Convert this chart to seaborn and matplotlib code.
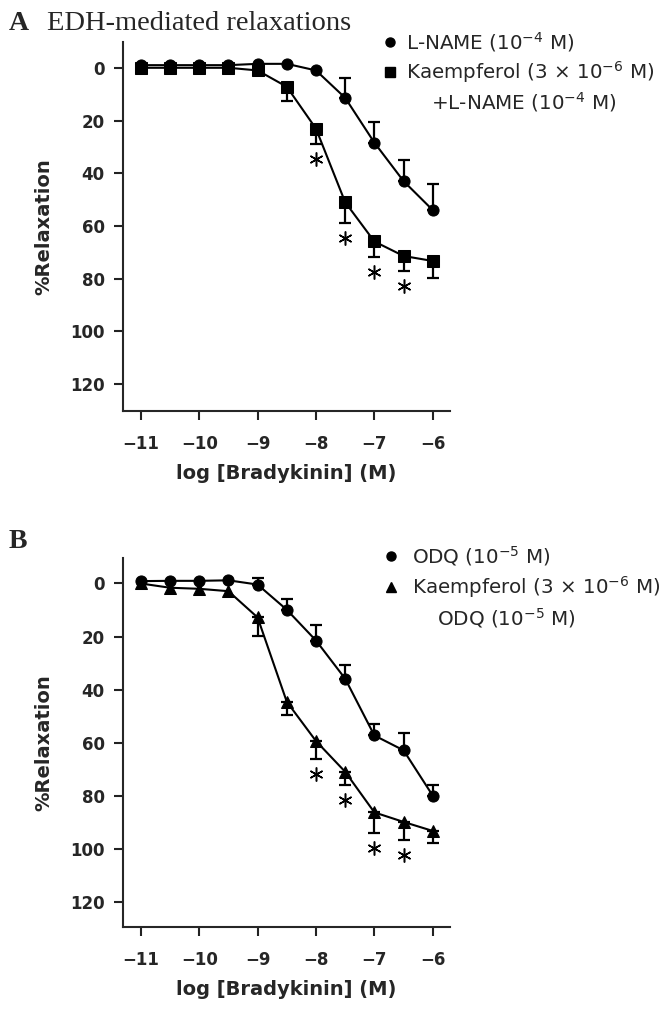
import numpy as np
import pandas as pd
import matplotlib
matplotlib.use('Agg')
import matplotlib.pyplot as plt
import seaborn as sns
from matplotlib.lines import Line2D
from matplotlib.transforms import offset_copy

# log [bradykinin] (M)
log_bk = [-11, -10.5, -10, -9.5, -9, -8.5, -8, -7.5, -7, -6.5, -6]

# Panel A: EDH-mediated relaxations
lname = [-1, -1, -1, -1, -1.5, -1.5, 1, 11.4, 28.4, 43, 54]
lname_err = [0, 0, 0, 0, 0, 0, 0, 7.7, 7.8, 8.1, 10]
kaemp_lname = [0, 0, 0, 0, 1, 7.2, 23.1, 51, 65.9, 71.4, 73.3]
kaemp_lname_err = [0, 0, 0, 0, 0, 5.5, 5.7, 7.7, 5.8, 5.7, 6.3]
sig_a = [-8, -7.5, -7, -6.5]

# Panel B: ODQ
odq = [-0.9, -1, -1, -1.2, 0.4, 9.9, 21.5, 35.9, 57.3, 62.9, 80]
odq_err = [0, 0, 0, 0, 2.5, 4, 6, 5.2, 4.2, 6.5, 4.2]
kaemp_odq = [0, 1.6, 2, 2.9, 12.8, 44.6, 59.4, 71, 86.3, 89.9, 93.3]
kaemp_odq_err = [0, 0, 0, 0, 7, 4.8, 6.7, 4.8, 7.6, 6.8, 4.4]
sig_b = [-8, -7.5, -7, -6.5]

y_ticks = [0, 20, 40, 60, 80, 100, 120]
x_ticks = [-11, -10, -9, -8, -7, -6]

sns.set_style('ticks')
plt.rcParams['font.family'] = ['DejaVu Sans']
plt.rcParams['axes.linewidth'] = 1.5

W, H = 670, 1018
fig = plt.figure(figsize=(W / 100, H / 100), dpi=100)


def px_axes(x0, y0, x1, y1):
    return fig.add_axes([x0 / W, 1 - y1 / H, (x1 - x0) / W, (y1 - y0) / H])


def draw_panel(ax, ctrl, ctrl_err, kaemp, kaemp_err, sig, names, kmarker):
    df = pd.DataFrame({
        'logBK': log_bk * 2,
        'relax': ctrl + kaemp,
        'err': ctrl_err + kaemp_err,
        'group': [names[0]] * len(log_bk) + [names[1]] * len(log_bk),
    })
    c = df[(df['group'] == names[0]) & (df['err'] > 0)]
    k = df[(df['group'] == names[1]) & (df['err'] > 0)]
    # one-sided error bars: control upwards, kaempferol downwards
    ax.errorbar(c['logBK'], c['relax'], yerr=[c['err'], np.zeros(len(c))],
                fmt='none', ecolor='black', elinewidth=1.6, capsize=4, capthick=1.6, zorder=2)
    ax.errorbar(k['logBK'], k['relax'], yerr=[np.zeros(len(k)), k['err']],
                fmt='none', ecolor='black', elinewidth=1.6, capsize=4, capthick=1.6, zorder=2)
    sns.lineplot(data=df, x='logBK', y='relax', hue='group', style='group',
                 hue_order=names, style_order=names,
                 markers={names[0]: 'o', names[1]: kmarker}, dashes=False,
                 palette=['black', 'black'], markersize=8, markeredgecolor='black',
                 linewidth=1.5, legend=False, ax=ax, zorder=3)
    s = df[(df['group'] == names[1]) & (df['logBK'].isin(sig))]
    trans = offset_copy(ax.transData, fig=fig, y=-15, units='dots')
    ax.plot(s['logBK'], s['relax'] + s['err'], ls='none', marker=(6, 2, 0),
            ms=10, mew=1.1, color='black', transform=trans, zorder=4)

    ax.set_xlim(-11.3, -5.71)
    ax.set_xticks(x_ticks)
    ax.set_yticks(y_ticks)
    ax.tick_params(direction='out', length=6.5, width=1.5, labelsize=12, color='#222222')
    ax.tick_params(axis='x', pad=11)
    ax.tick_params(axis='y', pad=7)
    for lab in ax.get_xticklabels() + ax.get_yticklabels():
        lab.set_fontweight('bold')
    ax.set_xlabel('log [Bradykinin] (M)', fontsize=14, fontweight='bold', labelpad=8)
    ax.set_ylabel('%Relaxation', fontsize=14, fontweight='bold', labelpad=12)
    sns.despine(ax=ax)


axA = px_axes(123.3, 41.7, 449.7, 410.7)
draw_panel(axA, lname, lname_err, kaemp_lname, kaemp_lname_err, sig_a,
           ['L-NAME', 'Kaempferol + L-NAME'], 's')
axA.set_ylim(130.1, -9.9)

axB = px_axes(123.3, 558.3, 449.7, 926.7)
draw_panel(axB, odq, odq_err, kaemp_odq, kaemp_odq_err, sig_b,
           ['ODQ', 'Kaempferol + ODQ'], '^')
axB.set_ylim(129.4, -9.5)


def marker_legend(entries, x, y, textpad, spacing):
    handles = [Line2D([], [], ls='none', marker=m, color='black', ms=6.5) if m else
               Line2D([], [], ls='none') for m, _ in entries]
    labels = [lab for _, lab in entries]
    fig.legend(handles, labels, loc='upper left', bbox_to_anchor=(x / W, 1 - y / H),
               bbox_transform=fig.transFigure, frameon=False, fontsize=14.3,
               handlelength=0.75, handletextpad=textpad, labelspacing=spacing,
               borderpad=0, borderaxespad=0)


marker_legend([('o', 'L-NAME (10$^{-4}$ M)'),
               ('s', 'Kaempferol (3 \u00d7 10$^{-6}$ M)'),
               (None, '    +L-NAME (10$^{-4}$ M)')], 383, 30, 0.42, 0.25)
marker_legend([('o', 'ODQ (10$^{-5}$ M)'),
               ('^', 'Kaempferol (3 \u00d7 10$^{-6}$ M)'),
               (None, '    ODQ (10$^{-5}$ M)')], 384, 544, 0.65, 0.32)

fig.text(9 / W, 1 - 30 / H, 'A', family='Liberation Serif', fontweight='bold',
         fontsize=20, va='baseline', ha='left')
fig.text(47 / W, 1 - 30 / H, 'EDH-mediated relaxations', family='Liberation Serif',
         fontsize=20.5, va='baseline', ha='left')
fig.text(9 / W, 1 - 548 / H, 'B', family='Liberation Serif', fontweight='bold',
         fontsize=20, va='baseline', ha='left')

fig.savefig('out.png', dpi=100)
